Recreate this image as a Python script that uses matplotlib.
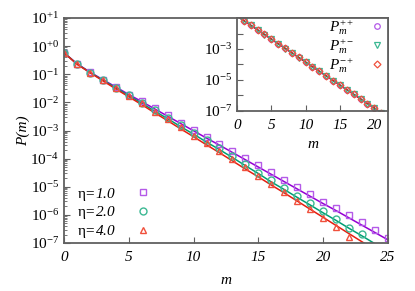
import numpy as np
import matplotlib
matplotlib.use('Agg')
import matplotlib.pyplot as plt
from matplotlib.ticker import LogLocator, FixedLocator, NullFormatter

plt.rcParams['font.family'] = ['Liberation Serif', 'DejaVu Serif']
plt.rcParams['font.style'] = 'italic'
plt.rcParams['mathtext.fontset'] = 'custom'
plt.rcParams['mathtext.rm'] = 'Liberation Serif:style=normal'
plt.rcParams['mathtext.it'] = 'Liberation Serif:style=italic'
plt.rcParams['mathtext.default'] = 'it'
plt.rcParams['font.size'] = 11

# ---- data: log10 P(m) ----
m_all = list(range(26))

eta_labels = [r'$\mathrm{\eta}$=1.0', r'$\mathrm{\eta}$=2.0', r'$\mathrm{\eta}$=4.0']

# simulation points
sim1 = [-0.23, -0.65, -0.93, -1.20, -1.46, -1.72, -1.95, -2.20, -2.46, -2.72,
        -2.97, -3.22, -3.48, -3.72, -3.98, -4.23, -4.49, -4.76, -5.01, -5.26,
        -5.53, -5.77, -6.02, -6.25, -6.53, -6.82]
sim2 = [-0.23, -0.65, -0.94, -1.21, -1.48, -1.75, -2.01, -2.28, -2.55, -2.81,
        -3.08, -3.35, -3.62, -3.90, -4.20, -4.51, -4.77, -5.03, -5.32, -5.59,
        -5.86, -6.15, -6.46, -6.67]
sim3 = [-0.23, -0.65, -0.94, -1.22, -1.50, -1.77, -2.03, -2.33, -2.59, -2.89,
        -3.18, -3.46, -3.74, -4.02, -4.31, -4.60, -4.89, -5.20, -5.51, -5.80,
        -6.11, -6.44, -6.78]

# theory lines
th1 = [-0.23, -0.62, -0.92, -1.19, -1.45, -1.72, -1.97, -2.23, -2.49, -2.75,
       -3.01, -3.27, -3.52, -3.78, -4.04, -4.30, -4.56, -4.82, -5.08, -5.34,
       -5.60, -5.85, -6.11, -6.37, -6.63, -6.89]
th2 = [-0.23, -0.63, -0.93, -1.21, -1.48, -1.76, -2.03, -2.31, -2.58, -2.86,
       -3.13, -3.41, -3.68, -3.96, -4.25, -4.53, -4.83, -5.10, -5.38, -5.65,
       -5.93, -6.20, -6.48, -6.75, -7.03]
th3 = [-0.23, -0.64, -0.94, -1.23, -1.52, -1.80, -2.08, -2.37, -2.65, -2.94,
       -3.22, -3.51, -3.79, -4.08, -4.37, -4.65, -4.94, -5.22, -5.51, -5.80,
       -6.09, -6.38, -6.67, -6.96, -7.25]

# inset: P_m^{++}, P_m^{+-}, P_m^{-+}
m_in = list(range(1, 22))
p_pp = [-1.17, -1.47, -1.77, -2.06, -2.36, -2.66, -2.96, -3.25, -3.55, -3.85,
        -4.15, -4.44, -4.74, -5.04, -5.34, -5.63, -5.93, -6.23, -6.53, -6.83, -7.12]
p_pm = [-1.18, -1.48, -1.78, -2.07, -2.37, -2.67, -2.97, -3.26, -3.56, -3.86,
        -4.16, -4.45, -4.75, -5.05, -5.35, -5.64, -5.94, -6.24, -6.54, -6.84, -7.13]
p_mp = [-1.17, -1.47, -1.77, -2.06, -2.36, -2.66, -2.96, -3.25, -3.55, -3.85,
        -4.15, -4.44, -4.74, -5.04, -5.34, -5.63, -5.93, -6.23, -6.53, -6.83, -7.12]
m_in_line = [0, 21]
in_line = [-0.87, -7.12]
in_labels = [r'$P_m^{++}$', r'$P_m^{+-}$', r'$P_m^{-+}$']

line_cols = ['#9400d3', '#009e73', '#e51e10']
mk_cols = ['#b45ae8', '#3cb893', '#f0503c']

fig = plt.figure(figsize=(4.15, 2.91), dpi=100)
ax = fig.add_axes([0.154, 0.165, 0.781, 0.773])

def p(v):
    return 10.0 ** np.array(v)

ax.plot(m_all[:len(th1)], p(th1), color=line_cols[0], lw=1.1)
ax.plot(m_all[:len(th2)], p(th2), color=line_cols[1], lw=1.1)
ax.plot(m_all[:len(th3)], p(th3), color=line_cols[2], lw=1.1)
ax.plot(m_all[:len(sim1)], p(sim1), ls='none', marker='s', ms=5, mfc='none',
        mec=mk_cols[0], mew=1.0, label=eta_labels[0])
ax.plot(m_all[:len(sim2)], p(sim2), ls='none', marker='o', ms=5, mfc='none',
        mec=mk_cols[1], mew=1.0, label=eta_labels[1])
ax.plot(m_all[:len(sim3)], p(sim3), ls='none', marker='^', ms=5, mfc='none',
        mec=mk_cols[2], mew=1.0, label=eta_labels[2])

ax.set_yscale('log')
ax.set_xlim(0, 25)
ax.set_ylim(1e-7, 1e1)
ax.set_xticks([0, 5, 10, 15, 20, 25])
ax.set_xticklabels(['0', '5', '10', '15', '20', '25'])
dec = [1, 0, -1, -2, -3, -4, -5, -6, -7]
ax.yaxis.set_major_locator(FixedLocator([10.0 ** d for d in dec]))
ax.set_yticklabels([r'$10^{%+d}$' % d if d >= 0 else r'$10^{%d}$' % d for d in dec])
ax.yaxis.set_minor_locator(LogLocator(base=10, subs=np.arange(2, 10), numticks=20))
ax.yaxis.set_minor_formatter(NullFormatter())
ax.tick_params(which='both', direction='in', top=False, right=False, color='#606060')
ax.tick_params(which='major', length=4, width=0.8)
ax.tick_params(which='minor', length=2, width=0.6)
ax.tick_params(axis='x', pad=6)
for s in ax.spines.values():
    s.set_color('#606060')
    s.set_linewidth(1.3)
ax.set_xlabel('m', labelpad=7)
ax.set_ylabel('P(m)', labelpad=0)
ax.legend(loc='lower left', bbox_to_anchor=(0.02, -0.015), frameon=False,
          markerfirst=False, handlelength=1.0, handletextpad=1.3,
          labelspacing=0.12, fontsize=11, borderaxespad=0.0)

# inset
axi = fig.add_axes([0.571, 0.619, 0.364, 0.319])
for col in line_cols:
    axi.plot(m_in_line, p(in_line), color=col, lw=1.0)
axi.plot(m_in, p(p_pp), ls='none', marker='o', ms=4, mfc='none', mec=mk_cols[0],
         mew=0.9, label=in_labels[0])
axi.plot(m_in, p(p_pm), ls='none', marker='v', ms=4, mfc='none', mec=mk_cols[1],
         mew=0.9, label=in_labels[1])
axi.plot(m_in, p(p_mp), ls='none', marker='D', ms=3.5, mfc='none', mec=mk_cols[2],
         mew=0.9, label=in_labels[2])
axi.set_yscale('log')
axi.set_xlim(0, 22)
axi.set_ylim(1e-7, 1e-1)
axi.set_xticks([0, 5, 10, 15, 20])
axi.set_xticklabels(['0', '5', '10', '15', '20'])
idec = [-2, -3, -4, -5, -6, -7]
axi.yaxis.set_major_locator(FixedLocator([10.0 ** d for d in idec]))
axi.set_yticklabels([r'$10^{%d}$' % d if d % 2 else '' for d in idec])
axi.yaxis.set_minor_locator(FixedLocator([]))
axi.tick_params(which='both', direction='in', top=False, right=False, color='#606060',
                length=4, width=0.8)
axi.tick_params(axis='x', pad=6)
for s in axi.spines.values():
    s.set_color('#606060')
    s.set_linewidth(1.3)
axi.set_xlabel('m', labelpad=4)
axi.legend(loc='upper right', bbox_to_anchor=(1.02, 1.06), frameon=False,
           markerfirst=False, handlelength=1.0, handletextpad=1.0,
           labelspacing=0.02, fontsize=11, borderaxespad=0.0)

fig.savefig('out.png', dpi=100)
